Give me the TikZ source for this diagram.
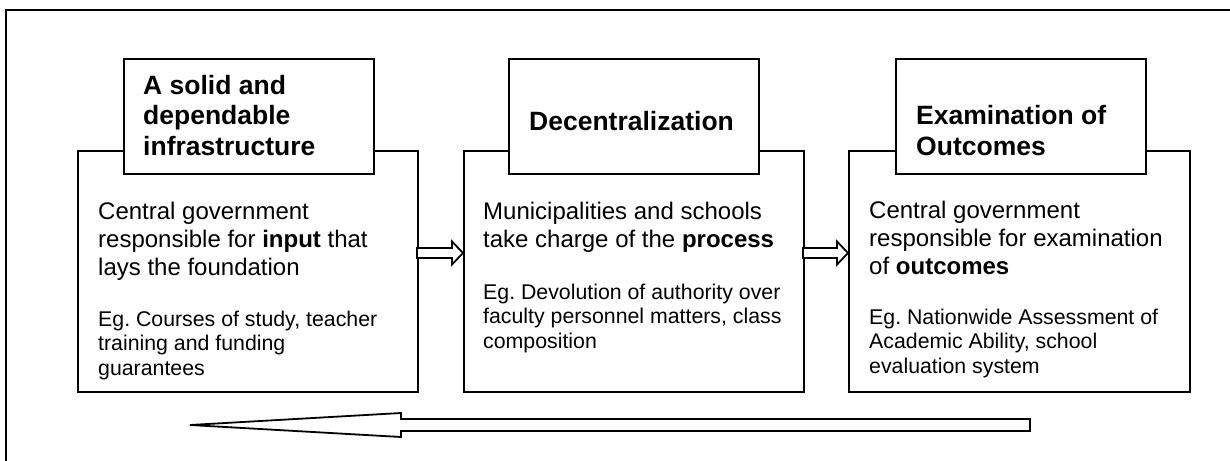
\documentclass[tikz,border=0pt]{standalone}
\usepackage{fontspec}
\setmainfont{Liberation Sans}
\usepackage{tikz}
\usetikzlibrary{positioning,calc}
\frenchspacing

\tikzset{
  caja/.style={draw, line width=2pt, fill=white, inner sep=0pt, anchor=north west},
  titulo/.style={font=\fontsize{26.5}{30.5}\selectfont\bfseries, align=left, anchor=base west, inner sep=0pt},
  cuerpo/.style={font=\fontsize{24}{28}\selectfont, align=left, anchor=base west, inner sep=0pt},
  ejemplo/.style={font=\fontsize{21.3}{24.5}\selectfont, align=left, anchor=base west, inner sep=0pt},
  flecha/.style={draw, line width=1.8pt, fill=white, line join=miter}
}

\begin{document}
\begin{tikzpicture}[x=1pt, y=-1pt]
        \useasboundingbox (0,0) rectangle (1230,460);
        % Marco exterior
        \draw[line width=1.5pt] (6,10) rectangle (1240,470);

        % Cajas principales
        \node[caja, minimum width=340pt, minimum height=241pt] (infra) at (77,150) {};
        \node[caja, minimum width=340pt, minimum height=241pt] (descen) at (463,150) {};
        \node[caja, minimum width=341pt, minimum height=241pt] (result) at (848,150) {};

        % Cajas de titulo
        \node[caja, minimum width=250pt, minimum height=115pt] (tinfra) at (123,58) {};
        \node[caja, minimum width=250pt, minimum height=115pt] (tdescen) at (508,58) {};
        \node[caja, minimum width=250pt, minimum height=115pt] (tresult) at (895,58) {};

        % Textos (anclados en la ultima linea)
        \node[titulo] (ninfra) at ($(tinfra.north west)+(20,97)$) {A solid and\\dependable\\infrastructure};
        \node[titulo] (ndescen) at ($(tdescen.north west)+(21,72)$) {Decentralization};
        \node[titulo] (nresult) at ($(tresult.north west)+(21,97)$) {Examination of\\Outcomes};

        \node[cuerpo] (cinfra) at ($(infra.north west)+(21,125)$) {Central government\\responsible for \textbf{input} that\\lays the foundation};
        \node[cuerpo] (cdescen) at ($(descen.north west)+(20,97)$) {Municipalities and schools\\take charge of the \textbf{process}};
        \node[cuerpo] (cresult) at ($(result.north west)+(21,124)$) {Central government\\responsible for examination\\of \textbf{outcomes}};

        \node[ejemplo] (einfra) at ($(infra.north west)+(21,225)$) {Eg. Courses of study, teacher\\training and funding\\guarantees};
        \node[ejemplo] (edescen) at ($(descen.north west)+(20,198)$) {Eg. Devolution of authority over\\faculty personnel matters, class\\composition};
        \node[ejemplo] (eresult) at ($(result.north west)+(21,223)$) {Eg. Nationwide Assessment of\\Academic Ability, school\\evaluation system};

        % Flechas huecas
        \coordinate (p1) at ($(descen.north west)+(0,103)$);
        \coordinate (p2) at ($(result.north west)+(0,103)$);
        \coordinate (p3) at (190,425);
        \draw[flecha] (p1) -- ++(-11,-11.5) -- ++(0,6.5) -- ++(-35,0) -- ++(0,10) -- ++(35,0) -- ++(0,6.5) -- cycle;
        \draw[flecha] (p2) -- ++(-11,-11.5) -- ++(0,6.5) -- ++(-34,0) -- ++(0,10) -- ++(34,0) -- ++(0,6.5) -- cycle;
        \draw[flecha] (p3) -- ++(211,-12) -- ++(0,6) -- ++(629,0) -- ++(0,12) -- ++(-629,0) -- ++(0,6) -- cycle;
    \end{tikzpicture}
\end{document}
